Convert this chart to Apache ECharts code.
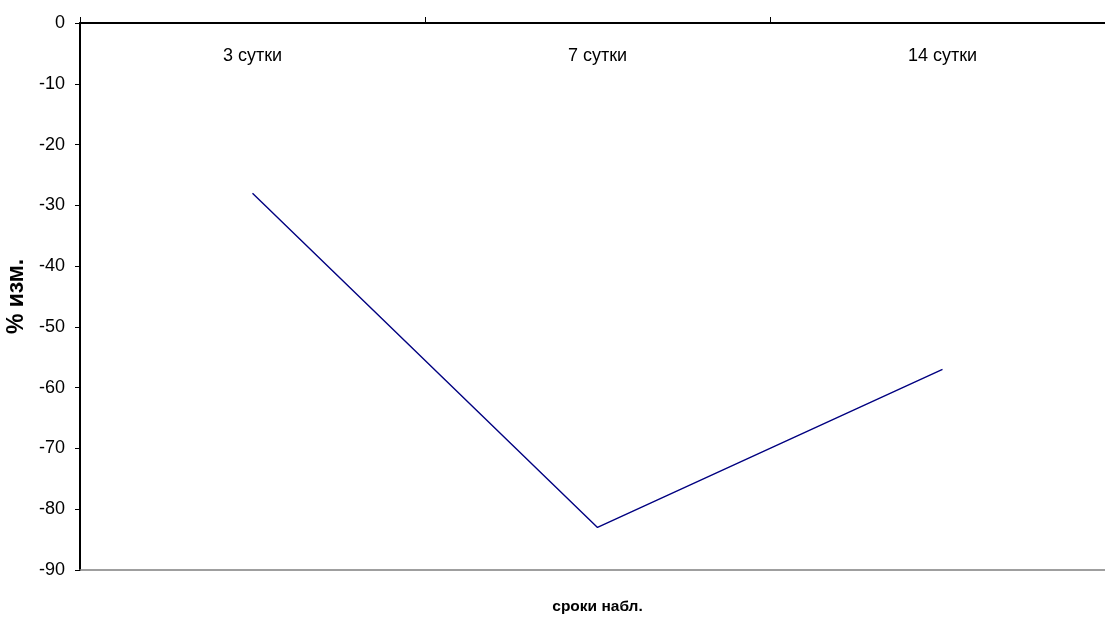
<!DOCTYPE html>
<html><head><meta charset="utf-8">
<script src="https://cdn.jsdelivr.net/npm/echarts@6/dist/echarts.min.js"></script>
<style>html,body{margin:0;padding:0;background:#fff;overflow:hidden}#c{width:1105px;height:617px}</style>
</head><body><div id="c"></div>
<script>
const categories = ['3 сутки', '7 сутки', '14 сутки'];
const values = [-28, -83, -57];
const yName = '% изм.';
const xName = 'сроки набл.';
const FONT = '"Liberation Sans", Arial, sans-serif';

const chart = echarts.init(document.getElementById('c'), null, {renderer: 'canvas'});
chart.setOption({
  animation: false,
  backgroundColor: '#fff',
  grid: {left: 80, top: 23, width: 1035, height: 547, containLabel: false, outerBoundsMode: 'none'},
  xAxis: [{
    type: 'category', data: categories, position: 'top', boundaryGap: true,
    axisLine: {onZero: false, lineStyle: {color: '#000', width: 2}},
    axisTick: {show: true, inside: false, length: 6, lineStyle: {color: '#000', width: 1}},
    axisLabel: {inside: true, margin: 24, color: '#000', fontFamily: FONT, fontSize: 18}
  }, {
    type: 'category', data: categories, position: 'bottom',
    axisLine: {onZero: false, lineStyle: {color: '#808080', width: 1.5}},
    axisTick: {show: false}, axisLabel: {show: false},
    name: xName, nameLocation: 'middle', nameGap: 29,
    nameTextStyle: {color: '#000', fontFamily: FONT, fontSize: 15.5, fontWeight: 'bold'}
  }],
  yAxis: {
    type: 'value', min: -90, max: 0, interval: 10,
    axisLine: {show: true, lineStyle: {color: '#000', width: 2}},
    axisTick: {show: true, length: 5, lineStyle: {color: '#000'}},
    splitLine: {show: false},
    axisLabel: {color: '#000', fontFamily: FONT, fontSize: 18, margin: 15},
    name: yName, nameLocation: 'middle', nameGap: 49, nameRotate: 90,
    nameTextStyle: {color: '#000', fontFamily: FONT, fontSize: 23, fontWeight: 'bold'}
  },
  series: [{
    type: 'line', data: values, xAxisIndex: 0,
    showSymbol: false, symbol: 'none',
    lineStyle: {color: '#000080', width: 1.4}
  }]
});
</script></body></html>
